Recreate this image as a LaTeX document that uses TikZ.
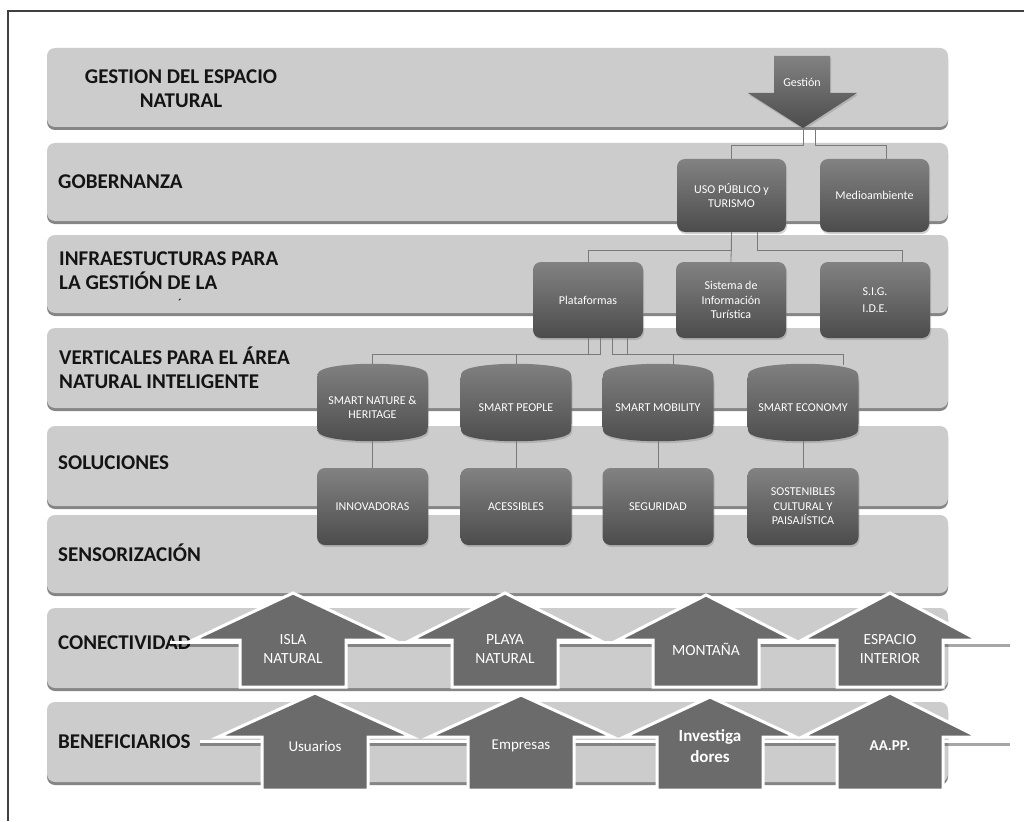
\documentclass[tikz,border=0pt]{standalone}
\usepackage{fontspec}
\setmainfont{Carlito}
\usetikzlibrary{shadows,calc}
\pgfdeclarelayer{bandlayer}
\pgfdeclarelayer{connlayer}
\pgfsetlayers{bandlayer,connlayer,main}
\definecolor{bandfill}{HTML}{CCCCCC}
\definecolor{bandshadow}{HTML}{858585}
\definecolor{boxtop}{HTML}{828282}
\definecolor{boxbot}{HTML}{4C4C4C}
\definecolor{arrowfill}{HTML}{6B6B6B}
\definecolor{conncol}{HTML}{7A7A7A}
\definecolor{labelcol}{HTML}{141414}
\tikzset{
  band/.style={fill=bandfill, rounded corners=8pt},
  bandsh/.style={fill=bandshadow, rounded corners=8pt},
  lbl/.style={font=\fontsize{21}{24}\selectfont\bfseries, text=labelcol, anchor=west, inner sep=0pt, align=left},
  dbox/.style={rounded corners=8pt, top color=boxtop, bottom color=boxbot, draw=none,
    minimum width=110pt, minimum height=75pt, text=white, font=\fontsize{12}{14.5}\selectfont,
    align=center, inner sep=2pt, drop shadow={opacity=0.35, shadow xshift=1pt, shadow yshift=-2pt}},
  cylfill/.style={top color=boxtop, bottom color=boxbot, rounded corners=4pt,
    drop shadow={opacity=0.35, shadow xshift=1pt, shadow yshift=-2pt}},
  cylanchor/.style={draw=none, fill=none, minimum width=111pt, minimum height=75pt, inner sep=0pt},
  cyltext/.style={text=white, font=\fontsize{12}{14.5}\selectfont, align=center, inner sep=0pt},
  conn/.style={draw=conncol, line width=0.8pt},
  uparrowsh/.style={fill=arrowfill, draw=white, line width=3pt, line join=miter},
  wline/.style={draw=white, line width=3pt},
  wlinesh/.style={draw=black, opacity=0.35, line width=3pt},
  atext/.style={text=white, font=\fontsize{15.5}{19}\selectfont, align=center, inner sep=0pt},
  btext/.style={text=white, font=\fontsize{15}{19}\selectfont, align=center, inner sep=0pt},
  bbtext/.style={text=white, font=\fontsize{17}{21}\selectfont\bfseries, align=center, inner sep=0pt},
  bctext/.style={text=white, font=\fontsize{15}{21}\selectfont\bfseries, align=center, inner sep=0pt},
}
\newcommand\mycyl[4]{%
  \path[cylfill] (#2-55.5,#3-25) .. controls (#2-52,#3-42) and (#2+52,#3-42) .. (#2+55.5,#3-25)
     -- (#2+55.5,#3+25) .. controls (#2+52,#3+42) and (#2-52,#3+42) .. (#2-55.5,#3+25) -- cycle;
  \node[cylanchor] (#1) at (#2,#3) {};
  \node[cyltext] (#1t) at ([yshift=-5pt]#1.center) {#4};
}
\newcommand\myuparrow[8]{% name, cx, hw, ya, yb, ys, style, text
  \path[uparrowsh] (#2,#4) -- (#2+#3,#5) -- (#2+53,#5) -- (#2+53,#6) -- (#2-53,#6) -- (#2-53,#5) -- (#2-#3,#5) -- cycle;
  \node[#7] (#1) at (#2,#5+9) {#8};
}
\begin{document}
\begin{tikzpicture}[x=1pt,y=-1pt]
\useasboundingbox (0,0) rectangle (1024,821);

% bands
\begin{pgfonlayer}{bandlayer}
\fill[white] (0,0) rectangle (1024,821);
\draw[line width=1.3pt, black!75] (8,821) -- (8,11) -- (1024,11);
\foreach \t/\b in {48/127,143/221,235/313,328/408,426/506,515/593,608/688,702/782}{
  \fill[bandsh] (47,\t+3) rectangle (948,\b+3);
  \fill[band] (47,\t) rectangle (948,\b);
}
\end{pgfonlayer}

% labels
\node[lbl, align=center, anchor=center] (l1) at (181,89) {GESTION DEL ESPACIO\\NATURAL};
\node[lbl] (l2) at (58,182) {GOBERNANZA};
\node[lbl] (l3) at (59,271) {INFRAESTUCTURAS PARA\\LA GESTIÓN DE LA};
\node[font=\fontsize{12}{12}\selectfont\bfseries, text=labelcol, inner sep=0pt, anchor=base] (l3b) at (180,307) {´};
\node[lbl] (l4) at (59,368) {VERTICALES PARA EL ÁREA\\NATURAL INTELIGENTE};
\node[lbl] (l5) at (58,463) {SOLUCIONES};
\node[lbl] (l6) at (58,553) {SENSORIZACIÓN};
\node[lbl] (l7) at (58,643) {CONECTIVIDAD};
\node[lbl] (l8) at (58,742) {BENEFICIARIOS};

% Gestion arrow
\path[top color=boxtop, bottom color=boxbot, drop shadow={opacity=0.35, shadow xshift=1pt, shadow yshift=-2pt}]
  (774,56) -- (830,56) -- (830,93) -- (857,93) -- (803,128) -- (748,93) -- (774,93) -- cycle;
\node[cyltext] (gest) at (802,82) {Gestión};
\coordinate (gtip) at (803,128);

% governance boxes
\node[dbox, minimum width=109pt, minimum height=73pt] (uso) at (731.5,195.5) {USO PÚBLICO y\\TURISMO};
\node[dbox, minimum width=109pt, minimum height=73pt] (med) at (874.5,195.5) {Medioambiente};

% infrastructure boxes
\node[dbox, minimum height=76pt] (plat) at (588,300) {Plataformas};
\node[dbox, minimum height=76pt] (sit) at (731,300) {Sistema de\\Información\\Turística};
\node[dbox, minimum height=76pt] (sig) at (875,300) {S.I.G.\\[3pt]I.D.E.};

% verticals
\mycyl{c1}{372.5}{402.5}{SMART NATURE \&\\HERITAGE}
\mycyl{c2}{516}{402.5}{SMART PEOPLE}
\mycyl{c3}{658}{402.5}{SMART MOBILITY}
\mycyl{c4}{803}{402.5}{SMART ECONOMY}

% solutions
\node[dbox, minimum width=111pt, minimum height=77pt] (s1) at (372.5,506.5) {INNOVADORAS};
\node[dbox, minimum width=111pt, minimum height=77pt] (s2) at (516,506.5) {ACESSIBLES};
\node[dbox, minimum width=111pt, minimum height=77pt] (s3) at (658,506.5) {SEGURIDAD};
\node[dbox, minimum width=111pt, minimum height=77pt] (s4) at (803,506.5) {SOSTENIBLES\\CULTURAL Y\\PAISAJÍSTICA};

% connectors
\begin{pgfonlayer}{connlayer}
\draw[conn] (gtip) -- ++(0,17) -| (uso.north);
\draw[conn] ([xshift=12pt]gtip) -- ++(0,17) -| ([xshift=12pt]med.north);
\draw[conn] (uso.south) -- ++(0,18) -| (plat.north);
\draw[conn] (uso.south) -- (sit.north);
\draw[conn] ([xshift=26pt]uso.south) -- ++(0,18) -| ([xshift=27pt]sig.north);
\draw[conn] (plat.south) -- ++(0,16) -| (c1.north);
\draw[conn] ([xshift=12pt]plat.south) -- ++(0,16) -| (c2.north);
\draw[conn] ([xshift=24pt]plat.south) -- ++(0,16) -| ([xshift=15pt]c3.north);
\draw[conn] ([xshift=39pt]plat.south) -- ++(0,16) -| ([xshift=40pt]c4.north);
\draw[conn] (c1.south) -- (s1.north);
\draw[conn] (c2.south) -- (s2.north);
\draw[conn] (c3.south) -- (s3.north);
\draw[conn] (c4.south) -- (s4.north);
\end{pgfonlayer}

% connectivity row
\coordinate (r7s) at (170,642);
\coordinate (r7e) at (1010,642);
\draw[wlinesh] ([yshift=-3pt]r7s) -- ([yshift=-3pt]r7e);
\draw[wline] (r7s) -- (r7e);
\myuparrow{a1}{293}{100}{593}{640}{687}{atext}{ISLA\\NATURAL}
\myuparrow{a2}{505}{94}{593}{640}{687}{atext}{PLAYA\\NATURAL}
\myuparrow{a3}{706}{88}{595}{640}{687}{atext}{MONTAÑA}
\myuparrow{a4}{890}{88}{593}{640}{687}{atext}{ESPACIO\\INTERIOR}

% beneficiaries row
\coordinate (r8s) at (200,741);
\coordinate (r8e) at (1010,741);
\draw[wlinesh] ([yshift=-3pt]r8s) -- ([yshift=-3pt]r8e);
\draw[wline] (r8s) -- (r8e);
\myuparrow{b1}{315}{97}{693}{737}{790}{btext}{Usuarios}
\myuparrow{b2}{521}{92}{695}{737}{790}{btext}{Empresas}
\myuparrow{b3}{710}{86}{697}{737}{790}{bbtext}{Investiga\\dores}
\myuparrow{b4}{890}{88}{693}{737}{790}{bctext}{AA.PP.}
\end{tikzpicture}
\end{document}
